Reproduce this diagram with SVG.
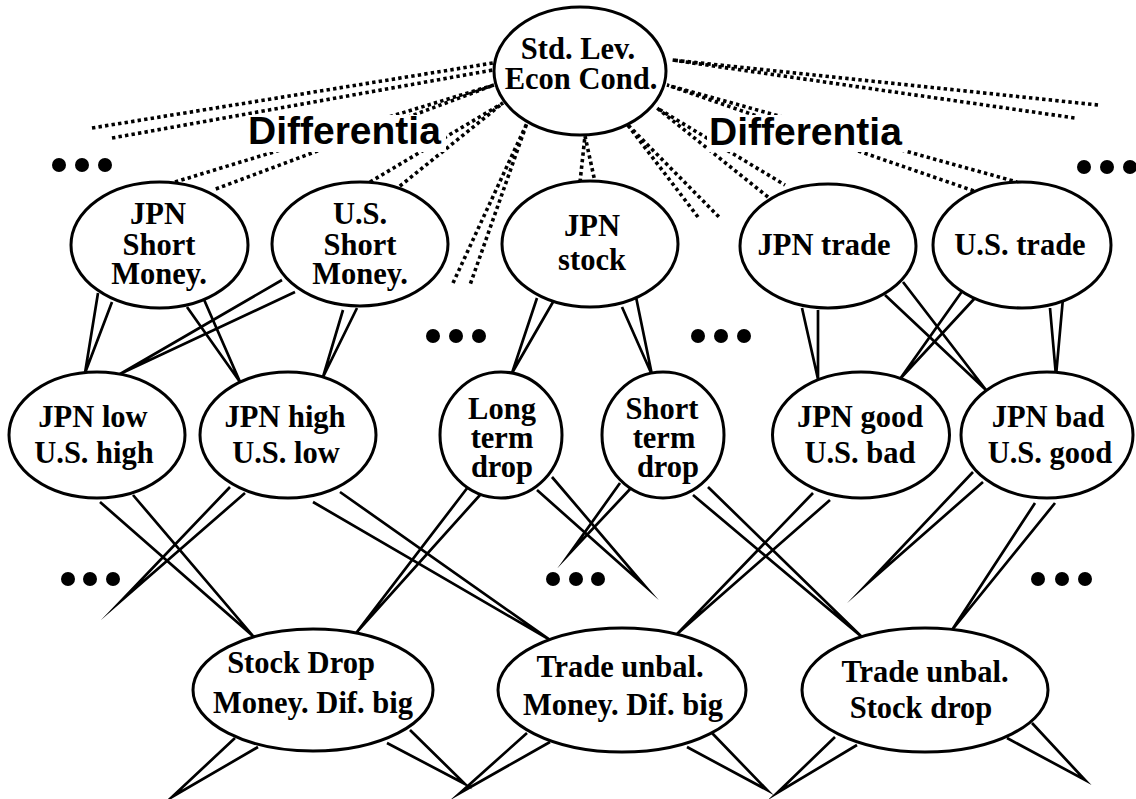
<svg xmlns="http://www.w3.org/2000/svg" width="1136" height="799" viewBox="0 0 1136 799">
  <style>
    .node ellipse { fill: #fff; stroke: #000; stroke-width: 3; }
    .node text { font-family: "Liberation Serif", "Times New Roman", serif; font-weight: bold; font-size: 30.5px; text-anchor: middle; fill: #000; }
    .wedge { fill: none; stroke: #000; stroke-width: 2.7; stroke-linejoin: miter; stroke-miterlimit: 40; }
    .dotted { fill: none; stroke: #000; stroke-width: 3.6; stroke-dasharray: 3.4 3.2; }
    .label { font-family: "Liberation Sans", Arial, sans-serif; font-weight: bold; font-size: 39px; fill: #000; }
    .more circle { fill: #000; }
  </style>
  <rect width="1136" height="799" fill="#fff"/>

  <!-- connectors: dotted differentia wedges and solid wedges -->
  <g id="connectors">
    <g id="differentia-links">
      <path class="dotted" d="M92,128 L493,63 M112,138 L493,70"/>
      <path class="dotted" d="M175,182 L494,85 L213,190"/>
      <path class="dotted" d="M370,182 L503,103 L395,190"/>
      <path class="dotted" d="M453,283 L527,123 L470,285"/>
      <path class="dotted" d="M580,182 L585,136 L595,182"/>
      <path class="dotted" d="M698,217 L627,124 L720,218"/>
      <path class="dotted" d="M768,197 L657,108 L785,185"/>
      <path class="dotted" d="M1098,105 L672,60 L1075,118"/>
      <path class="dotted" d="M980,193 L667,85 L1017,182"/>
    </g>
    <g id="level1-to-level2">
      <path class="wedge" d="M98,293 L85,373 L112,302"/>
      <path class="wedge" d="M187,307 L240,382 L202,295"/>
      <path class="wedge" d="M282,280 L120,374 L295,292"/>
      <path class="wedge" d="M343,310 L323,377 L357,308"/>
      <path class="wedge" d="M537,298 L512,373 L553,302"/>
      <path class="wedge" d="M622,307 L652,375 L636,297"/>
      <path class="wedge" d="M802,308 L818,379 L818,310"/>
      <path class="wedge" d="M885,295 L986,390 L903,282"/>
      <path class="wedge" d="M963,290 L900,379 L975,298"/>
      <path class="wedge" d="M1050,308 L1056,376 L1063,298"/>
    </g>
    <g id="level2-to-level3">
      <path class="wedge" d="M100,502 L253,636 L133,495"/>
      <path class="wedge" d="M230,487 L122,600 L245,493"/>
      <path class="wedge" d="M313,502 L550,640 L340,492"/>
      <path class="wedge" d="M468,487 L357,632 L480,495"/>
      <path class="wedge" d="M537,490 L645,586 L552,477"/>
      <path class="wedge" d="M620,483 L570,553 L632,487"/>
      <path class="wedge" d="M693,495 L862,637 L708,487"/>
      <path class="wedge" d="M813,493 L677,634 L830,500"/>
      <path class="wedge" d="M973,472 L868,583 L983,482"/>
      <path class="wedge" d="M1035,503 L952,630 L1055,503"/>
    </g>
    <g id="level3-down">
      <path class="wedge" d="M235,738 L172,797 L258,747"/>
      <path class="wedge" d="M387,743 L465,784 L410,730"/>
      <path class="wedge" d="M527,733 L460,793 L550,742"/>
      <path class="wedge" d="M687,747 L767,790 L712,733"/>
      <path class="wedge" d="M835,737 L777,793 L857,745"/>
      <path class="wedge" d="M1007,738 L1085,780 L1032,723"/>
    </g>
  </g>

  <!-- differentia labels (white backing hides the links passing behind) -->
  <g id="label-differentia-left">
    <rect x="246" y="115" width="200" height="37" fill="#fff"/>
    <text class="label" x="248" y="144">Differentia</text>
  </g>
  <g id="label-differentia-right">
    <rect x="707" y="115" width="200" height="37" fill="#fff"/>
    <text class="label" x="709" y="145">Differentia</text>
  </g>

  <!-- nodes -->
  <g id="std-lev" class="node">
    <ellipse cx="580" cy="71" rx="86" ry="64"/>
    <text x="578" y="59">Std. Lev.</text>
    <text x="581" y="89">Econ Cond.</text>
  </g>
  <g id="jpn-short-money" class="node">
    <ellipse cx="159.5" cy="245" rx="88.5" ry="63"/>
    <text x="158" y="224">JPN</text>
    <text x="159" y="255">Short</text>
    <text x="159" y="284">Money.</text>
  </g>
  <g id="us-short-money" class="node">
    <ellipse cx="360" cy="244" rx="88" ry="62"/>
    <text x="360" y="224">U.S.</text>
    <text x="360" y="255">Short</text>
    <text x="360" y="284">Money.</text>
  </g>
  <g id="jpn-stock" class="node">
    <ellipse cx="590" cy="244" rx="88" ry="63"/>
    <text x="592" y="236">JPN</text>
    <text x="592" y="270">stock</text>
  </g>
  <g id="jpn-trade" class="node">
    <ellipse cx="828" cy="246" rx="88" ry="62"/>
    <text x="824" y="255">JPN trade</text>
  </g>
  <g id="us-trade" class="node">
    <ellipse cx="1022" cy="245" rx="89" ry="63"/>
    <text x="1020" y="255">U.S. trade</text>
  </g>
  <g id="jpn-low-us-high" class="node">
    <ellipse cx="97" cy="435" rx="88" ry="63"/>
    <text x="93" y="427">JPN low</text>
    <text x="94" y="463">U.S. high</text>
  </g>
  <g id="jpn-high-us-low" class="node">
    <ellipse cx="288" cy="435" rx="88" ry="63"/>
    <text x="285" y="427">JPN high</text>
    <text x="286" y="463">U.S. low</text>
  </g>
  <g id="long-term-drop" class="node">
    <ellipse cx="501" cy="435" rx="61" ry="63"/>
    <text x="502" y="419">Long</text>
    <text x="502" y="448">term</text>
    <text x="502" y="477">drop</text>
  </g>
  <g id="short-term-drop" class="node">
    <ellipse cx="663" cy="435" rx="61" ry="63"/>
    <text x="662" y="419">Short</text>
    <text x="664" y="448">term</text>
    <text x="668" y="477">drop</text>
  </g>
  <g id="jpn-good-us-bad" class="node">
    <ellipse cx="861" cy="435" rx="88.5" ry="63"/>
    <text x="860" y="427">JPN good</text>
    <text x="860" y="463">U.S. bad</text>
  </g>
  <g id="jpn-bad-us-good" class="node">
    <ellipse cx="1047" cy="435" rx="86" ry="63"/>
    <text x="1048" y="427">JPN bad</text>
    <text x="1050" y="463">U.S. good</text>
  </g>
  <g id="stock-drop-money-dif" class="node">
    <ellipse cx="313" cy="690" rx="120" ry="61"/>
    <text x="301" y="673">Stock Drop</text>
    <text x="313" y="713">Money. Dif. big</text>
  </g>
  <g id="trade-unbal-money-dif" class="node">
    <ellipse cx="622" cy="690" rx="124" ry="62"/>
    <text x="620" y="677">Trade unbal.</text>
    <text x="623" y="715">Money. Dif. big</text>
  </g>
  <g id="trade-unbal-stock-drop" class="node">
    <ellipse cx="925" cy="690" rx="123" ry="62"/>
    <text x="925" y="682">Trade unbal.</text>
    <text x="921" y="718">Stock drop</text>
  </g>

  <!-- ellipsis markers for omitted branches -->
  <g id="more-top-left" class="more"><circle cx="59" cy="165" r="7"/><circle cx="82" cy="165" r="7"/><circle cx="105" cy="165" r="7"/></g>
  <g id="more-top-right" class="more"><circle cx="1084" cy="167" r="7"/><circle cx="1107" cy="167" r="7"/><circle cx="1130" cy="167" r="7"/></g>
  <g id="more-mid-left" class="more"><circle cx="433" cy="336" r="7"/><circle cx="456" cy="336" r="7"/><circle cx="479" cy="336" r="7"/></g>
  <g id="more-mid-right" class="more"><circle cx="698" cy="336" r="7"/><circle cx="721" cy="336" r="7"/><circle cx="744" cy="336" r="7"/></g>
  <g id="more-low-left" class="more"><circle cx="68" cy="579" r="7"/><circle cx="90" cy="579" r="7"/><circle cx="113" cy="579" r="7"/></g>
  <g id="more-low-mid" class="more"><circle cx="553" cy="579" r="7"/><circle cx="576" cy="579" r="7"/><circle cx="598" cy="579" r="7"/></g>
  <g id="more-low-right" class="more"><circle cx="1038" cy="579" r="7"/><circle cx="1062" cy="579" r="7"/><circle cx="1085" cy="579" r="7"/></g>
</svg>
